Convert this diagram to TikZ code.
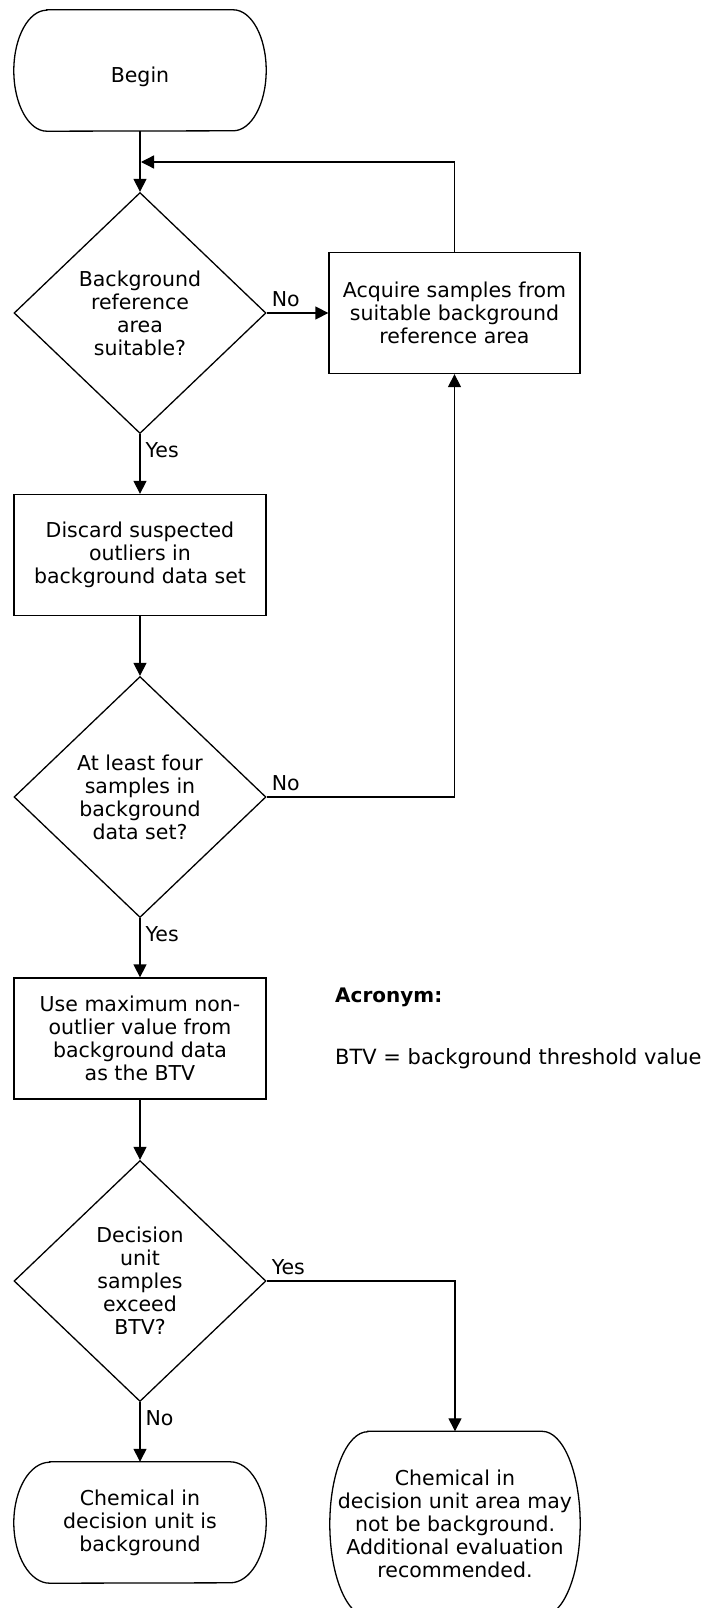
\documentclass[tikz,border=0pt]{standalone}
\usepackage{fontspec}
\setmainfont{DejaVu Sans}
\usetikzlibrary{arrows.meta,shapes.geometric,calc}
\newcommand\termpath[3]{\draw[ln] ([xshift=#2]#1.north west) -- ([xshift=-#2]#1.north east)
  arc[start angle=90,end angle=-90,x radius=#2,y radius=#3] -- ([xshift=#2]#1.south west)
  arc[start angle=270,end angle=90,x radius=#2,y radius=#3] -- cycle;}
\begin{document}
\begin{tikzpicture}[x=1pt,y=1pt,
  every node/.style={font=\fontsize{20.5}{23}\selectfont},
  ln/.style={line width=1.3pt},
  flow/.style={ln,-{Triangle[length=13pt,width=13pt]}},
  procbox/.style={draw,ln,rectangle,minimum width=252pt,minimum height=121pt,inner sep=0pt,align=center},
  decide/.style={draw,ln,diamond,minimum width=252pt,minimum height=241pt,inner sep=0pt,align=center},
  termnode/.style={rectangle,minimum width=252pt,minimum height=121pt,inner sep=0pt,align=center},
  lbl/.style={inner sep=0pt,anchor=base west}]
\path[use as bounding box] (0,0) rectangle (705,-1608);

% nodes
\node[termnode] (begin) at (140,-70.5) {\raisebox{-4pt}[\height][0pt]{Begin}};
\node[decide] (d1) at (140,-313) {Background\\reference\\area\\suitable?};
\node[procbox,minimum width=251pt] (acq) at (454.5,-313) {Acquire samples from\\suitable background\\reference area};
\node[procbox] (disc) at (140,-555) {Discard suspected\\outliers in\\background data set};
\node[decide] (d2) at (140,-797) {At least four\\samples in\\background\\data set?};
\node[procbox] (use) at (140,-1038.5) {Use maximum non-\\outlier value from\\background data\\as the BTV};
\node[decide] (d3) at (140,-1281) {Decision\\unit\\samples\\exceed\\BTV?};
\node[termnode] (bg) at (140,-1522.5) {Chemical in\\decision unit is\\background};
\node[termnode,minimum width=250pt,minimum height=185pt] (nbg) at (455,-1524) {Chemical in\\decision unit area may\\not be background.\\Additional evaluation\\recommended.};

% terminator outlines
\termpath{begin}{33pt}{60.5pt}
\termpath{bg}{36pt}{60.5pt}
\begin{scope}
  \clip (0,0) rectangle (705,-1608);
  \termpath{nbg}{38pt}{92.5pt}
\end{scope}

% legend
\node[lbl,font=\fontsize{20}{23}\selectfont\bfseries] (acr) at (335,-1002.7) {Acronym:};
\node[lbl,font=\fontsize{21}{23}\selectfont] (btv) at (335,-1064) {BTV = background threshold value};

% connectors
\coordinate (loopin) at (141,-162);
\draw[flow] (begin) -- (d1);
\draw[flow] (acq.north) |- (loopin);
\draw[flow] (d1.east) -- (acq.west) node[lbl,pos=0,xshift=4.5pt,yshift=7pt] {No};
\draw[flow] (d1.south) -- (disc.north) node[lbl,pos=0,xshift=5pt,yshift=-23.3pt] {Yes};
\draw[flow] (disc) -- (d2);
\draw[flow] (d2.east) -| (acq.south) node[lbl,pos=0,xshift=4.5pt,yshift=7pt] {No};
\draw[flow] (d2.south) -- (use.north) node[lbl,pos=0,xshift=5pt,yshift=-23.3pt] {Yes};
\draw[flow] (use) -- (d3);
\draw[flow] (d3.east) -| (nbg.north) node[lbl,pos=0,xshift=4.5pt,yshift=7pt] {Yes};
\draw[flow] (d3.south) -- (bg.north) node[lbl,pos=0,xshift=5pt,yshift=-23.5pt] {No};
\end{tikzpicture}
\end{document}
